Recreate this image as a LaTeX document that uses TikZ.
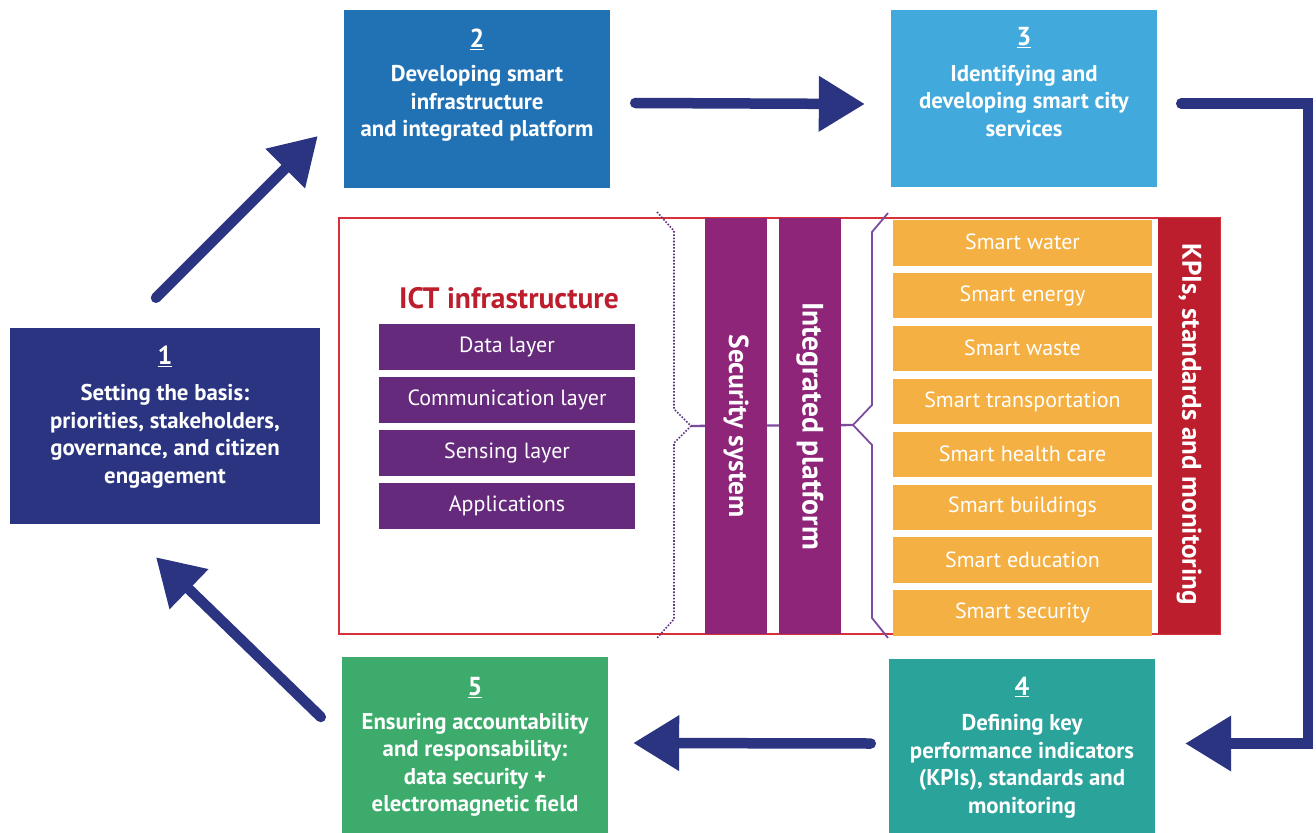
\documentclass[tikz,border=0pt]{standalone}
\usepackage{fontspec}
\setmainfont{PT Sans}
\usetikzlibrary{arrows.meta,calc}
\definecolor{navy}{HTML}{2B3481}
\definecolor{cTwo}{HTML}{2172B4}
\definecolor{cThree}{HTML}{41A9DB}
\definecolor{cFour}{HTML}{2AA39B}
\definecolor{cFive}{HTML}{3CAB6B}
\definecolor{kpired}{HTML}{BC1E2D}
\definecolor{outred}{HTML}{D6303A}
\definecolor{layerpurple}{HTML}{652A7C}
\definecolor{barpurple}{HTML}{8E2578}
\definecolor{orangebox}{HTML}{F4B043}
\definecolor{bracepurple}{HTML}{7D4C9F}
\definecolor{dotpurple}{HTML}{5E3282}
\newcommand{\boxnum}[1]{{\fontsize{26}{27}\selectfont\underline{#1}}}
\begin{document}
\begin{tikzpicture}[x=1pt,y=-1pt,
  box/.style={draw=none, inner sep=0pt, minimum width=266pt},
  boxtxt/.style={text=white, align=center, inner sep=0pt, anchor=north,
    font=\bfseries\fontsize{22.8}{27.5}\selectfont},
  layer/.style={fill=layerpurple, inner sep=0pt, minimum width=256pt, minimum height=46pt,
    text=white, font=\fontsize{22}{24}\selectfont},
  service/.style={fill=orangebox, inner sep=0pt, minimum width=259pt, minimum height=45.5pt,
    text=white, font=\fontsize{22}{24}\selectfont},
  bar/.style={fill=barpurple, inner sep=0pt, minimum width=62pt, minimum height=416pt},
  vtext/.style={text=white, rotate=-90, inner sep=0pt},
  flow/.style={draw=navy, line width=10.5pt, line cap=round, line join=miter,
    -{Triangle[length=46pt,width=53pt]}}]
\useasboundingbox (0,0) rectangle (1316,832);
\fill[white] (0,0) rectangle (1316,832);

% numbered boxes
\node[box, fill=navy, minimum width=310pt, minimum height=196pt] (b1) at (165,426) {};
\node[box, fill=cTwo, minimum height=178pt] (b2) at (477,99) {};
\node[box, fill=cThree, minimum height=177pt] (b3) at (1024,98.5) {};
\node[box, fill=cFour, minimum height=186pt] (b4) at (1022,752) {};
\node[box, fill=cFive, minimum height=188pt] (b5) at (475,751) {};

\node[boxtxt] (t1) at (165,346) {\boxnum{1}\\[8.5pt]Setting the basis:\\priorities, stakeholders,\\governance, and citizen\\engagement};
\node[boxtxt] (t2) at (477,29) {\boxnum{2}\\[6.5pt]Developing smart\\infrastructure\\and integrated platform};
\node[boxtxt] (t3) at (1024,27.5) {\boxnum{3}\\[8pt]Identifying and\\developing smart city\\services};
\node[boxtxt] (t4) at (1022,676.5) {\boxnum{4}\\[8pt]Defining key\\performance indicators\\(KPIs), standards and\\monitoring};
\node[boxtxt] (t5) at (475,677.5) {\boxnum{5}\\[6pt]Ensuring accountability\\and responsability:\\data security +\\electromagnetic field};

% central frame
\node[draw=outred, line width=1.4pt, inner sep=0pt, minimum width=881pt, minimum height=416pt] (frame) at (779.5,426) {};

% braces and link line
\coordinate (lt) at (691,426);
\coordinate (rt) at (853,425);
\draw[bracepurple, line width=2.4pt] (lt) -- (rt);
\draw[dotpurple, line width=1.6pt, dash pattern=on 1.6pt off 1.6pt] (657,212) -- (674,231) -- (674,409) -- (lt) -- (674,443) -- (674,619) -- (657,638);
\draw[bracepurple, line width=1.8pt] (888,213) -- (872,232) -- (872,405) -- (rt) -- (872,445) -- (872,618) -- (888,638);

% bars
\node[bar] (sec) at (736,426) {};
\node[vtext, font=\bfseries\fontsize{27.5}{29}\selectfont] at (sec) {Security system};
\node[bar] (integ) at (810,426) {};
\node[vtext, font=\bfseries\fontsize{29.5}{30}\selectfont] at (integ) {Integrated platform};
\node[bar, fill=kpired] (kpi) at (1189,426) {};
\node[vtext, font=\bfseries\fontsize{27}{29}\selectfont] at (1189,424) {KPIs, standards and monitoring};

% ICT infrastructure
\node[text=kpired, font=\bfseries\fontsize{29.5}{31}\selectfont, inner sep=0pt] (ict) at (509,298) {ICT infrastructure};
\node[layer] (l1) at (507,346.5) {Data layer};
\node[layer] (l2) at (507,399.5) {Communication layer};
\node[layer] (l3) at (507,452.5) {Sensing layer};
\node[layer] (l4) at (507,505.5) {Applications};

% services
\node[service] (s1) at (1022.5,242.8) {\raisebox{2pt}{Smart water}};
\node[service] (s2) at (1022.5,295.7) {\raisebox{2pt}{Smart energy}};
\node[service] (s3) at (1022.5,348.6) {\raisebox{2pt}{Smart waste}};
\node[service] (s4) at (1022.5,401.5) {\raisebox{2pt}{Smart transportation}};
\node[service] (s5) at (1022.5,454.4) {\raisebox{2pt}{Smart health care}};
\node[service] (s6) at (1022.5,507.3) {\raisebox{2pt}{Smart buildings}};
\node[service] (s7) at (1022.5,560.2) {\raisebox{2pt}{Smart education}};
\node[service] (s8) at (1022.5,613.1) {\raisebox{2pt}{Smart security}};

% arrows
\coordinate (a12s) at ($(b1.north)+(-9,-30)$);
\coordinate (a12e) at ($(b2.west)+(-26,37)$);
\draw[flow] (a12s) -- (a12e);
\coordinate (a23s) at ($(b2.east)+(25,4)$);
\coordinate (a23e) at ($(b3.west)+(-26,5.5)$);
\draw[flow] (a23s) -- (a23e);
\coordinate (a34s) at ($(b3.east)+(24,5)$);
\coordinate (a34c) at (1308,420);
\coordinate (a34e) at ($(b4.east)+(30,-8.5)$);
\draw[flow] (a34s) -| (a34c) |- (a34e);
\coordinate (a45s) at ($(b4.west)+(-18,-8.5)$);
\coordinate (a45e) at ($(b5.east)+(25,-8)$);
\draw[flow] (a45s) -- (a45e);
\coordinate (a51s) at ($(b5.west)+(-21,-34)$);
\coordinate (a51e) at ($(b1.south)+(-9,33)$);
\draw[flow] (a51s) -- (a51e);
\end{tikzpicture}
\end{document}
